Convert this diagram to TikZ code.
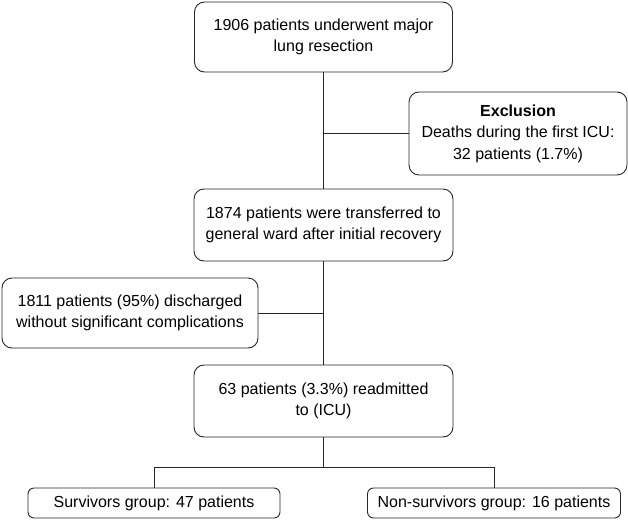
\documentclass[tikz,border=0pt]{standalone}
\usepackage{fontspec}
\setmainfont{Liberation Sans}
\usepackage{tikz}
\usetikzlibrary{positioning}

\tikzset{
	flowbox/.style={draw=black!85, line width=0.9pt, rounded corners=10pt, align=center,
		inner sep=0pt, font=\fontsize{16}{21.5}\selectfont},
	link/.style={draw=black!85, line width=0.9pt}
}

\begin{document}
\begin{tikzpicture}[x=1pt, y=1pt]
\useasboundingbox (0,0) rectangle (628,-519);
\node [flowbox, minimum width=258, minimum height=70] (total) at (323.5,-37) {1906 patients underwent major\\lung resection};
\node [flowbox, minimum width=218, minimum height=83] (excl) at (518,-133.5) {\textbf{Exclusion}\\Deaths during the first ICU:\\32 patients (1.7\%)};
\node [flowbox, minimum width=259, minimum height=72] (ward) at (323.5,-225) {1874 patients were transferred to\\general ward after initial recovery};
\node [flowbox, minimum width=256, minimum height=70] (disch) at (130,-313) {1811 patients (95\%) discharged\\without significant complications};
\node [flowbox, minimum width=259, minimum height=72] (icu) at (323.5,-401) {63 patients (3.3\%) readmitted\\to (ICU)};
\node [flowbox, minimum width=252, minimum height=30, rounded corners=6pt] (surv) at (154,-503) {Survivors group: 47 patients};
\node [flowbox, minimum width=253, minimum height=30, rounded corners=6pt] (nonsurv) at (494,-503) {Non-survivors group: 16 patients};

% trunk and side branches
\draw [link] (total.south) -- (ward.north);
\draw [link] (ward.south) -- (icu.north);
\draw [link] (total.south |- excl.west) -- (excl.west);
\draw [link] (disch.east) -- (disch.east -| ward.south);
% split into outcome groups
\coordinate (split) at ([yshift=-30]icu.south);
\draw [link] (icu.south) -- (split);
\draw [link] (surv.north) |- (split) -| (nonsurv.north);
\end{tikzpicture}
\end{document}
